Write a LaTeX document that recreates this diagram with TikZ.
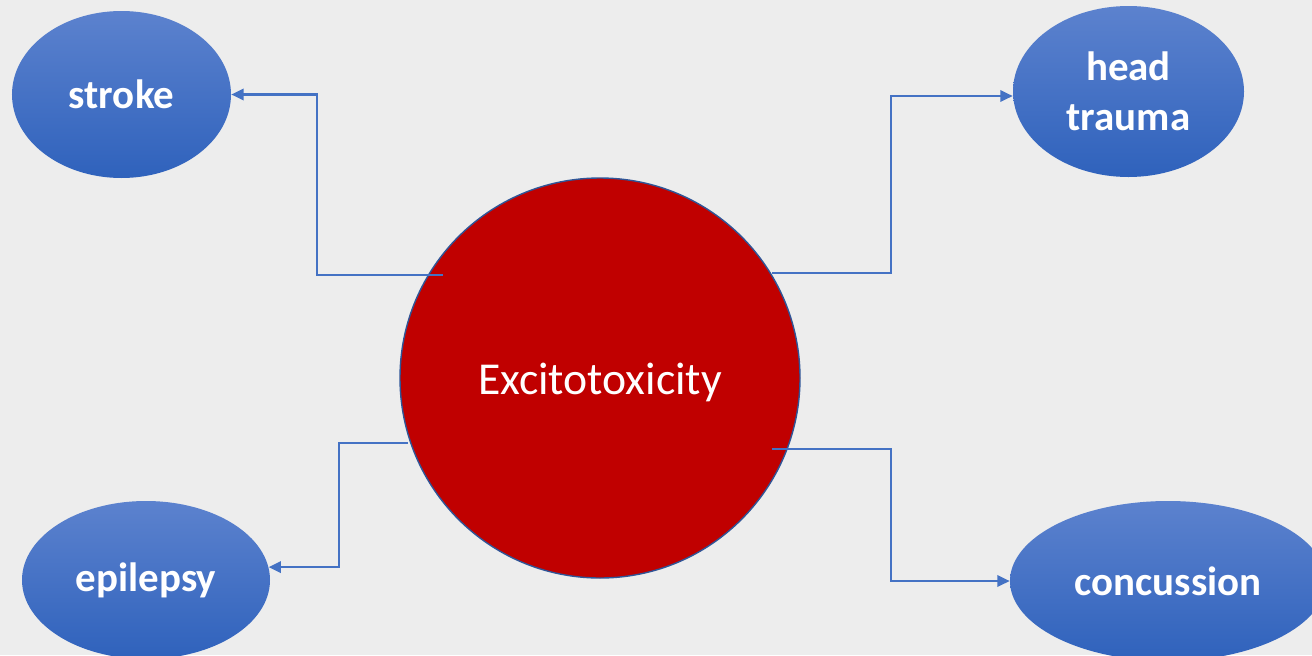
\documentclass[tikz,border=0pt]{standalone}
\usepackage{fontspec}
\setmainfont{Carlito}
\usetikzlibrary{arrows.meta,shapes.geometric,calc}
\definecolor{bgray}{HTML}{EDEDED}
\definecolor{exred}{HTML}{C00000}
\definecolor{linkblue}{HTML}{4472C4}
\definecolor{rimblue}{HTML}{2F5597}
\definecolor{topblue}{HTML}{5C82CE}
\definecolor{botblue}{HTML}{2F62BC}
\tikzset{
	cause/.style={ellipse, inner sep=0pt, top color=topblue, bottom color=botblue, text=white, font=\fontsize{23.3}{28.4}\selectfont\bfseries, align=center},
	link/.style={draw=linkblue, line width=1.2pt, -{Triangle[length=7pt,width=6.5pt]}}
}
\begin{document}
\begin{tikzpicture}
				\fill[bgray] (0,0) rectangle (26.24,-13.1);
				\useasboundingbox (0,0) rectangle (26.24,-13.1);
				
				\node[circle, minimum size=8cm, fill=exred, draw=rimblue, line width=0.8pt] (exc) at (12,-7.56) {};
				\node[text=white, font=\fontsize{26}{30}\selectfont] (exc-text) at ([yshift=-0.09cm]exc.center) {Excitotoxicity};
				
				\node[cause, minimum width=4.38cm, minimum height=3.34cm] (stroke) at (2.43,-1.89) {stroke};
				\node[cause, minimum width=4.62cm, minimum height=3.42cm] (head) at (22.57,-1.83) {head\\trauma};
				\node[cause, minimum width=4.96cm, minimum height=3.16cm] (epi) at (2.92,-11.6) {epilepsy};
				\node[cause, minimum width=6.32cm, minimum height=3.2cm] (conc) at (23.36,-11.62) {concussion};
				
				\coordinate (exc-nw) at (8.86,-5.5);
				\coordinate (exc-ne) at (15.44,-5.46);
				\coordinate (exc-sw) at (8.16,-8.86);
				\coordinate (exc-se) at (15.44,-8.98);
				
				\draw[link] (exc-nw) -- ++(-2.52,0) |- (stroke.east);
				\draw[link] (exc-ne) -- ++(2.38,0) |- ([yshift=-0.09cm]head.west);
				\draw[link] (exc-sw) -- ++(-1.38,0) |- (epi.6);
				\draw[link] (exc-se) -- ++(2.38,0) |- (conc.west);
\end{tikzpicture}
\end{document}
